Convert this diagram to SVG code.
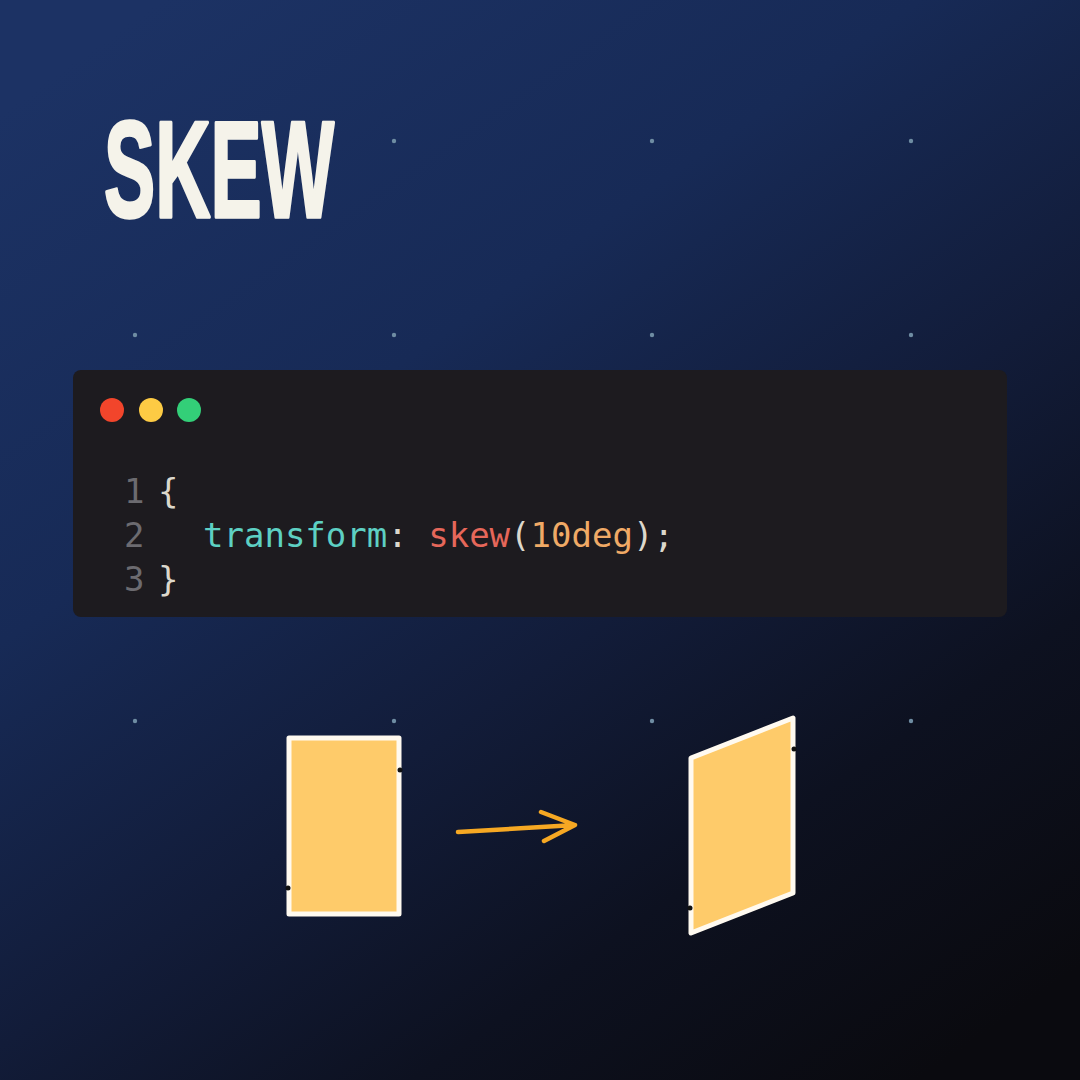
<svg xmlns="http://www.w3.org/2000/svg" width="1080" height="1080" viewBox="0 0 1080 1080">
<defs>
<linearGradient id="bg" x1="0.15" y1="0" x2="0.85" y2="1">
<stop offset="0" stop-color="#1c3264"/>
<stop offset="0.33" stop-color="#172a56"/>
<stop offset="0.58" stop-color="#121c39"/>
<stop offset="0.78" stop-color="#0d1120"/>
<stop offset="1" stop-color="#0a0a0f"/>
</linearGradient>
<style>
.dot{fill:#6f8da3}
.code{font-family:"DejaVu Sans Mono","Liberation Mono",monospace;font-size:34px}
.ln{fill:#6c6b70}
.pl{fill:#dcd8cc}
.kw{fill:#5dd0c3}
.fn{fill:#e6675a}
.num{fill:#f0aa66}
.shape{fill:#fecb6a;stroke:#fffaf0;stroke-width:5;stroke-linejoin:round}
.notch{fill:#111}
</style>
</defs>
<rect width="1080" height="1080" fill="url(#bg)"/>
<g id="grid">
<circle class="dot" cx="394" cy="141" r="2.2"/>
<circle class="dot" cx="652" cy="141" r="2.2"/>
<circle class="dot" cx="911" cy="141" r="2.2"/>
<circle class="dot" cx="135" cy="335" r="2.2"/>
<circle class="dot" cx="394" cy="335" r="2.2"/>
<circle class="dot" cx="652" cy="335" r="2.2"/>
<circle class="dot" cx="911" cy="335" r="2.2"/>
<circle class="dot" cx="135" cy="721" r="2.2"/>
<circle class="dot" cx="394" cy="721" r="2.2"/>
<circle class="dot" cx="652" cy="721" r="2.2"/>
<circle class="dot" cx="911" cy="721" r="2.2"/>
</g>
<g id="title">
<text x="104" y="217" font-family="Liberation Sans, Arial, sans-serif" font-weight="bold" font-size="138" fill="#f5f3ea" stroke="#f5f3ea" stroke-width="3.5" stroke-linejoin="round" textLength="230" lengthAdjust="spacingAndGlyphs">SKEW</text>
</g>
<g id="code-panel">
<rect x="73" y="370" width="934" height="247" rx="8" fill="#1d1b1f"/>
<circle cx="112" cy="410" r="12" fill="#f2452b"/>
<circle cx="151" cy="410" r="12" fill="#fdcb44"/>
<circle cx="189" cy="410" r="12" fill="#33cf78"/>
<text class="code" x="124" y="503"><tspan class="ln">1</tspan><tspan class="pl" x="158">{</tspan></text>
<text class="code" x="124" y="547"><tspan class="ln">2</tspan><tspan class="kw" x="203">transform</tspan><tspan class="pl">: </tspan><tspan class="fn">skew</tspan><tspan class="pl">(</tspan><tspan class="num">10deg</tspan><tspan class="pl">);</tspan></text>
<text class="code" x="124" y="591"><tspan class="ln">3</tspan><tspan class="pl" x="158">}</tspan></text>
</g>
<g id="before">
<rect class="shape" x="289" y="738" width="110" height="176"/>
<circle class="notch" cx="400" cy="770" r="2.5"/>
<circle class="notch" cx="288" cy="888" r="2.5"/>
</g>
<g id="after">
<polygon class="shape" points="691,758 793,718 793,893 691,933"/>
<circle class="notch" cx="794" cy="749" r="2.5"/>
<circle class="notch" cx="690" cy="908" r="2.5"/>
</g>
<g id="connectors">
<path d="M458 832 L575 825 M541 812 L575 825 L544 841" fill="none" stroke="#f6a823" stroke-width="4.5" stroke-linecap="round" stroke-linejoin="round"/>
</g>
</svg>
